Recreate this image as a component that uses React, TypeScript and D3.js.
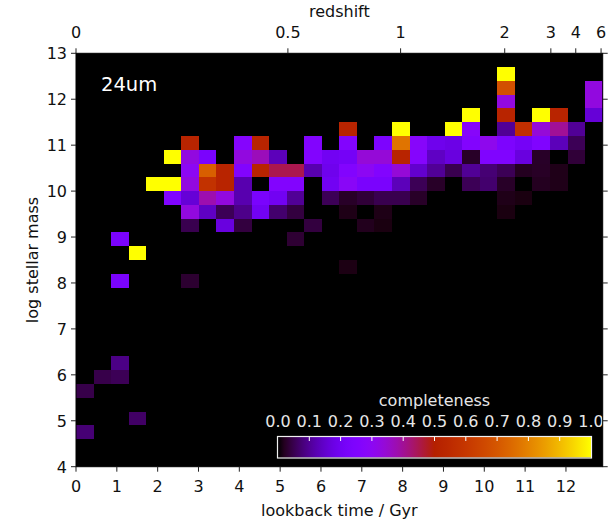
import React from "react";
import * as d3 from "d3";

// ---- axis ticks ----
const lookbackTicks = [0, 1, 2, 3, 4, 5, 6, 7, 8, 9, 10, 11, 12];
const massTicks = [4, 5, 6, 7, 8, 9, 10, 11, 12, 13];
const redshiftLabels = ["0", "0.5", "1", "2", "3", "4", "6"];
const redshiftLookback = [0, 5.19, 7.95, 10.5, 11.63, 12.24, 12.86];
const completenessTicks = [0.0, 0.1, 0.2, 0.3, 0.4, 0.5, 0.6, 0.7, 0.8, 0.9, 1.0];

// ---- histogram bin edges ----
const timeBinEdges = [
  0, 0.43, 0.86, 1.29, 1.72, 2.15, 2.58, 3.01, 3.44, 3.87, 4.3, 4.73, 5.16, 5.59, 6.02, 6.45,
  6.88, 7.31, 7.74, 8.17, 8.6, 9.03, 9.46, 9.89, 10.32, 10.75, 11.18, 11.61, 12.04, 12.47, 12.9,
];
const massBinEdges = [
  4.0, 4.3, 4.6, 4.9, 5.2, 5.5, 5.8, 6.1, 6.4, 6.7, 7.0, 7.3, 7.6, 7.9, 8.2, 8.5, 8.8, 9.1, 9.4,
  9.7, 10.0, 10.3, 10.6, 10.9, 11.2, 11.5, 11.8, 12.1, 12.4, 12.7, 13.0,
];

// ---- non-empty cells: [time bin index, mass bin index, completeness] ----
const cells: [number, number, number][] = [
  // 4.6-4.9
  [0, 2, 0.075],
  // 4.9-5.2
  [3, 3, 0.065],
  // 5.5-5.8
  [0, 5, 0.047],
  // 5.8-6.1
  [1, 6, 0.047], [2, 6, 0.055],
  // 6.1-6.4
  [2, 7, 0.087],
  // 7.9-8.2
  [2, 13, 0.23], [6, 13, 0.03],
  // 8.2-8.5
  [15, 14, 0.012],
  // 8.5-8.8
  [3, 15, 1.0],
  // 8.8-9.1
  [2, 16, 0.23], [12, 16, 0.032],
  // 9.1-9.4
  [6, 17, 0.05], [8, 17, 0.17], [9, 17, 0.04], [13, 17, 0.04], [16, 17, 0.018], [17, 17, 0.01],
  // 9.4-9.7
  [6, 18, 0.33], [7, 18, 0.14], [8, 18, 0.055], [9, 18, 0.09], [10, 18, 0.2], [11, 18, 0.07],
  [12, 18, 0.04], [15, 18, 0.014], [17, 18, 0.014], [24, 18, 0.01],
  // 9.7-10.0
  [5, 19, 0.25], [6, 19, 0.16], [7, 19, 0.38], [8, 19, 0.33], [9, 19, 0.12], [10, 19, 0.23],
  [11, 19, 0.2], [12, 19, 0.1], [14, 19, 0.055], [15, 19, 0.025], [16, 19, 0.035], [17, 19, 0.05],
  [18, 19, 0.05], [19, 19, 0.025], [24, 19, 0.015], [25, 19, 0.01],
  // 10.0-10.3
  [4, 20, 1.0], [5, 20, 1.0], [6, 20, 0.33], [7, 20, 0.58], [8, 20, 0.52], [9, 20, 0.12],
  [11, 20, 0.26], [12, 20, 0.26], [14, 20, 0.2], [15, 20, 0.29], [16, 20, 0.23], [17, 20, 0.23],
  [18, 20, 0.13], [19, 20, 0.055], [20, 20, 0.025], [22, 20, 0.055], [23, 20, 0.07],
  [24, 20, 0.025], [26, 20, 0.02], [27, 20, 0.015],
  // 10.3-10.6
  [6, 21, 0.3], [7, 21, 0.72], [8, 21, 0.52], [9, 21, 0.26], [10, 21, 0.52], [11, 21, 0.45],
  [12, 21, 0.45], [13, 21, 0.12], [14, 21, 0.19], [15, 21, 0.26], [16, 21, 0.3], [17, 21, 0.26],
  [18, 21, 0.34], [19, 21, 0.15], [20, 21, 0.1], [21, 21, 0.05], [22, 21, 0.1], [23, 21, 0.075],
  [24, 21, 0.055], [25, 21, 0.02], [26, 21, 0.024], [27, 21, 0.015],
  // 10.6-10.9
  [5, 22, 1.0], [6, 22, 0.33], [7, 22, 0.23], [9, 22, 0.33], [10, 22, 0.37], [11, 22, 0.13],
  [13, 22, 0.26], [14, 22, 0.2], [15, 22, 0.21], [16, 22, 0.34], [17, 22, 0.34], [18, 22, 0.52],
  [19, 22, 0.27], [20, 22, 0.14], [21, 22, 0.17], [22, 22, 0.025], [23, 22, 0.25], [24, 22, 0.25],
  [25, 22, 0.17], [26, 22, 0.025], [28, 22, 0.035],
  // 10.9-11.2
  [6, 23, 0.52], [9, 23, 0.27], [10, 23, 0.52], [13, 23, 0.26], [15, 23, 0.26], [17, 23, 0.24],
  [18, 23, 0.77], [19, 23, 0.28], [20, 23, 0.19], [21, 23, 0.18], [22, 23, 0.26], [23, 23, 0.31],
  [24, 23, 0.24], [25, 23, 0.21], [26, 23, 0.25], [27, 23, 0.13], [28, 23, 0.055],
  // 11.2-11.5
  [15, 24, 0.52], [18, 24, 1.0], [21, 24, 1.0], [22, 24, 0.28], [24, 24, 0.1], [25, 24, 0.57],
  [26, 24, 0.34], [27, 24, 0.4], [28, 24, 0.1],
  // 11.5-11.8
  [22, 25, 1.0], [24, 25, 0.52], [26, 25, 1.0], [27, 25, 0.52], [29, 25, 0.16],
  // 11.8-12.1
  [24, 26, 0.33], [29, 26, 0.33],
  // 12.1-12.4
  [24, 27, 0.68], [29, 27, 0.33],
  // 12.4-12.7
  [24, 28, 1.0],
];

// matplotlib "gnuplot" colormap
function gnuplot(v: number): string {
  const t = Math.max(0, Math.min(1, v));
  const r = Math.sqrt(t);
  const g = t * t * t;
  const b = Math.max(0, Math.min(1, Math.sin(2 * Math.PI * t)));
  return `rgb(${Math.round(255 * r)},${Math.round(255 * g)},${Math.round(255 * b)})`;
}

const W = 610;
const H = 524;
const L = 76;
const R = 602.7;
const T = 53.3;
const B = 466.7;
const FONT = "DejaVu Sans, sans-serif";

export default function App() {
  const x = d3.scaleLinear().domain([0, 12.9]).range([L, R]);
  const y = d3.scaleLinear().domain([4, 13]).range([B, T]);
  const cb = d3.scaleLinear().domain([0, 1]).range([278, 591]);
  const cbTop = 437;
  const cbH = 20.5;
  const stops = d3.range(0, 1.0001, 0.02);

  return (
    <svg
      width={W}
      height={H}
      style={{ position: "absolute", left: 0, top: 0, background: "#fff" }}
      fontFamily={FONT}
    >
      <defs>
        <linearGradient id="cbgrad" x1="0" x2="1" y1="0" y2="0">
          {stops.map((s) => (
            <stop key={s} offset={s} stopColor={gnuplot(s)} />
          ))}
        </linearGradient>
      </defs>

      {/* plot background */}
      <rect x={L} y={T} width={R - L} height={B - T} fill="#000" />

      {/* cells */}
      <g shapeRendering="crispEdges">
        {cells.map(([ti, mi, c], k) => {
          const x0 = x(timeBinEdges[ti]);
          const x1 = x(timeBinEdges[ti + 1]);
          const y0 = y(massBinEdges[mi + 1]);
          const y1 = y(massBinEdges[mi]);
          return (
            <rect key={k} x={x0} y={y0} width={x1 - x0} height={y1 - y0} fill={gnuplot(c)} />
          );
        })}
      </g>

      {/* label inside */}
      <text x={101} y={91} fontSize={19.5} fill="#fff">
        24um
      </text>

      {/* colorbar */}
      <text x={(cb(0) + cb(1)) / 2} y={406} fontSize={16} fill="#e6e6e6" textAnchor="middle">
        completeness
      </text>
      {completenessTicks.map((t) => (
        <text key={t} x={cb(t)} y={427} fontSize={16} fill="#e6e6e6" textAnchor="middle">
          {t.toFixed(1)}
        </text>
      ))}
      <rect x={cb(0)} y={cbTop} width={cb(1) - cb(0)} height={cbH} fill="url(#cbgrad)" />
      {completenessTicks.slice(1, -1).map((t) => (
        <line key={t} x1={cb(t)} x2={cb(t)} y1={cbTop} y2={cbTop + 4} stroke="#fff" strokeWidth={1} />
      ))}
      <rect
        x={cb(0) - 0.5}
        y={cbTop - 0.5}
        width={cb(1) - cb(0) + 1}
        height={cbH + 1}
        fill="none"
        stroke="#f0f0f0"
        strokeWidth={1.2}
      />

      {/* frame */}
      <rect x={L} y={T} width={R - L} height={B - T} fill="none" stroke="#000" strokeWidth={1} />

      {/* bottom axis */}
      {lookbackTicks.map((t) => (
        <g key={t}>
          <line x1={x(t)} x2={x(t)} y1={B} y2={B + 5} stroke="#222" />
          <text x={x(t)} y={492} fontSize={16} textAnchor="middle" fill="#111">
            {t}
          </text>
        </g>
      ))}
      <text x={(L + R) / 2} y={516} fontSize={16} textAnchor="middle" fill="#111">
        lookback time / Gyr
      </text>

      {/* top axis: redshift */}
      {redshiftLookback.map((t, i) => (
        <g key={i}>
          <line x1={x(t)} x2={x(t)} y1={T} y2={T - 5} stroke="#222" />
          <text x={x(t)} y={38} fontSize={16} textAnchor="middle" fill="#111">
            {redshiftLabels[i]}
          </text>
        </g>
      ))}
      <text x={(L + R) / 2} y={17} fontSize={16} textAnchor="middle" fill="#111">
        redshift
      </text>

      {/* left & right axes */}
      {massTicks.map((m) => (
        <g key={m}>
          <line x1={L} x2={L - 5} y1={y(m)} y2={y(m)} stroke="#222" />
          <line x1={R} x2={R + 5} y1={y(m)} y2={y(m)} stroke="#222" />
          <text x={67} y={y(m) + 6} fontSize={16} textAnchor="end" fill="#111">
            {m}
          </text>
        </g>
      ))}
      <text
        transform={`translate(38,${(T + B) / 2}) rotate(-90)`}
        fontSize={16}
        textAnchor="middle"
        fill="#111"
      >
        log stellar mass
      </text>
    </svg>
  );
}
